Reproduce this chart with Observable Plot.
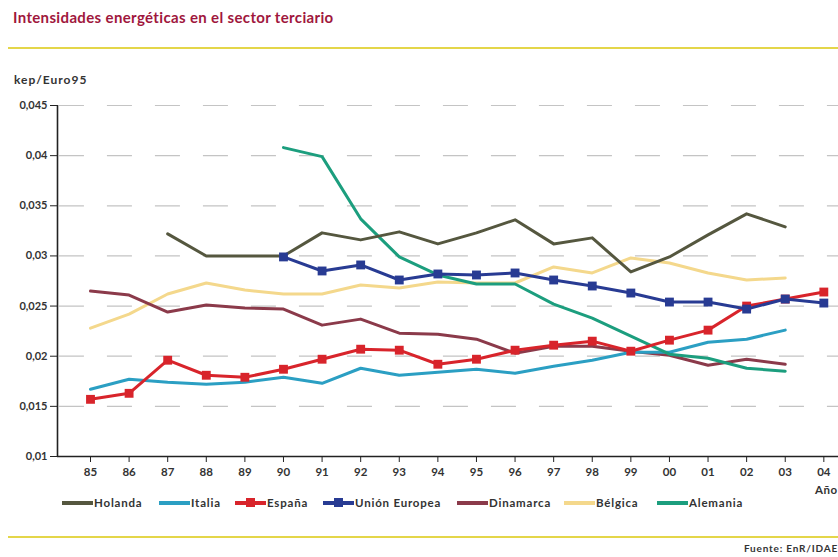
<!DOCTYPE html>
<html><head><meta charset="utf-8">
<script src="https://cdn.jsdelivr.net/npm/d3@7"></script>
<script src="https://cdn.jsdelivr.net/npm/@observablehq/plot@0.6"></script>
<style>
body{margin:0;background:#fff;}
#wrap{position:relative;width:838px;height:557px;overflow:hidden;font-family:"Lato","Liberation Sans",sans-serif;color:#333;}
#title{position:absolute;left:13px;top:8px;font-size:15px;font-weight:bold;color:#a0173d;white-space:nowrap;letter-spacing:0.35px;}
.rule{position:absolute;left:8px;width:830px;height:2px;background:#e4d64a;}
#unit{position:absolute;left:14px;top:72px;font-size:12px;font-weight:bold;color:#333;letter-spacing:1px;}
#chart{position:absolute;left:0;top:60px;}
#ano{position:absolute;left:815px;top:483px;font-size:11.5px;font-weight:bold;color:#333;letter-spacing:0.5px;}
.leg{position:absolute;top:496px;height:14px;}
.sw{position:absolute;top:5px;width:31px;height:4px;}
.mk{position:absolute;top:2px;left:11px;width:9px;height:9px;}
.lt{position:absolute;top:0;white-space:nowrap;font-size:11.5px;font-weight:bold;color:#333;line-height:14px;letter-spacing:0.8px;}
#src{position:absolute;right:0;top:542px;font-size:10px;font-weight:bold;color:#333;letter-spacing:0.8px;}
</style></head><body>
<div id="wrap">
  <div id="title">Intensidades energéticas en el sector terciario</div>
  <div class="rule" style="top:47px"></div>
  <div id="unit">kep/Euro95</div>
  <div id="chart"></div>
  <div id="ano">Año</div>
  <div id="legend"></div>
  <div class="rule" style="top:536px"></div>
  <div id="src">Fuente: EnR/IDAE</div>
</div>
<script>
const years = [1985,1986,1987,1988,1989,1990,1991,1992,1993,1994,1995,1996,1997,1998,1999,2000,2001,2002,2003,2004];
const yearLabels = ["85","86","87","88","89","90","91","92","93","94","95","96","97","98","99","00","01","02","03","04"];
const yTicks = [0.01,0.015,0.02,0.025,0.03,0.035,0.04,0.045];
const yTickLabels = ["0,01","0,015","0,02","0,025","0,03","0,035","0,04","0,045"];

const holanda   = [null,null,0.0322,0.0300,0.0300,0.0300,0.0323,0.0316,0.0324,0.0312,0.0323,0.0336,0.0312,0.0318,0.0284,0.0299,0.0321,0.0342,0.0329,null];
const italia    = [0.0167,0.0177,0.0174,0.0172,0.0174,0.0179,0.0173,0.0188,0.0181,0.0184,0.0187,0.0183,0.0190,0.0196,0.0204,0.0204,0.0214,0.0217,0.0226,null];
const espana    = [0.0157,0.0163,0.0196,0.0181,0.0179,0.0187,0.0197,0.0207,0.0206,0.0192,0.0197,0.0206,0.0211,0.0215,0.0205,0.0216,0.0226,0.0250,0.0257,0.0264];
const ue        = [null,null,null,null,null,0.0299,0.0285,0.0291,0.0276,0.0282,0.0281,0.0283,0.0276,0.0270,0.0263,0.0254,0.0254,0.0247,0.0257,0.0253];
const dinamarca = [0.0265,0.0261,0.0244,0.0251,0.0248,0.0247,0.0231,0.0237,0.0223,0.0222,0.0217,0.0203,0.0210,0.0210,0.0205,0.0201,0.0191,0.0197,0.0192,null];
const belgica   = [0.0228,0.0242,0.0262,0.0273,0.0266,0.0262,0.0262,0.0271,0.0268,0.0274,0.0273,0.0273,0.0289,0.0283,0.0298,0.0293,0.0283,0.0276,0.0278,null];
const alemania  = [null,null,null,null,null,0.0408,0.0399,0.0337,0.0299,0.0281,0.0272,0.0272,0.0252,0.0238,0.0220,0.0202,0.0198,0.0188,0.0185,null];

const seriesNames = ["Holanda","Italia","España","Unión Europea","Dinamarca","Bélgica","Alemania"];
const seriesValues = [holanda, italia, espana, ue, dinamarca, belgica, alemania];
const seriesColors = ["#55573f","#2b9fc3","#d8242b","#283b93","#8b3a4a","#f4d88c","#1c9e7e"];
const seriesMarkers = [false,false,true,true,false,false,false];
const drawOrder = [5,4,1,6,0,2,3];
const legendLeft = [62,159,235,323,457,564,657];

const rows = (arr) => years.map((yr,i)=>({year:yr, v:arr[i]})).filter(d=>d.v!=null);
const xMin = 1984.145, xMax = 2004.38;

const marks = [
  Plot.ruleY(yTicks.slice(1), {x1: xMin + 0.05, x2: xMax, stroke:"#c4c4c4", strokeWidth:1.2, strokeDasharray:"25,23"}),
];
for (const k of drawOrder) {
  marks.push(Plot.line(rows(seriesValues[k]), {x:"year", y:"v", stroke:seriesColors[k], strokeWidth:3, strokeLinejoin:"round"}));
  if (seriesMarkers[k]) marks.push(Plot.dot(rows(seriesValues[k]), {x:"year", y:"v", symbol:"square", r:5, fill:seriesColors[k], stroke:"none"}));
}
marks.push(
  Plot.ruleX([xMin], {y1:0.01, y2:0.045, stroke:"#222", strokeWidth:1.6}),
  Plot.ruleY([0.01], {stroke:"#222", strokeWidth:1.6}),
  Plot.axisY({ticks:yTicks, tickFormat:d=>yTickLabels[yTicks.indexOf(d)], tickSize:7, tickPadding:3, fontSize:11, fontWeight:"bold", stroke:"#222", fill:"#333", label:null}),
  Plot.axisX({ticks:years, tickFormat:d=>yearLabels[years.indexOf(d)], tickSize:6, tickPadding:5, fontSize:11.5, fontWeight:"bold", stroke:"#222", fill:"#333", label:null})
);

const chart = Plot.plot({
  width:838, height:435,
  marginLeft:57, marginRight:0, marginTop:45, marginBottom:39,
  x:{type:"linear", domain:[xMin,xMax], axis:null},
  y:{domain:[0.01,0.045], axis:null},
  style:{fontFamily:"Lato, 'Liberation Sans', sans-serif", background:"transparent", color:"#333", overflow:"visible"},
  marks
});
document.getElementById("chart").appendChild(chart);

const leg = document.getElementById("legend");
seriesNames.forEach((name,i)=>{
  const d = document.createElement("div");
  d.className="leg"; d.style.left = legendLeft[i]+"px";
  d.innerHTML = `<div class="sw" style="left:0;background:${seriesColors[i]}"></div>` +
    (seriesMarkers[i] ? `<div class="mk" style="background:${seriesColors[i]}"></div>` : "") +
    `<div class="lt" style="left:32px">${name}</div>`;
  leg.appendChild(d);
});
</script>
</body></html>
